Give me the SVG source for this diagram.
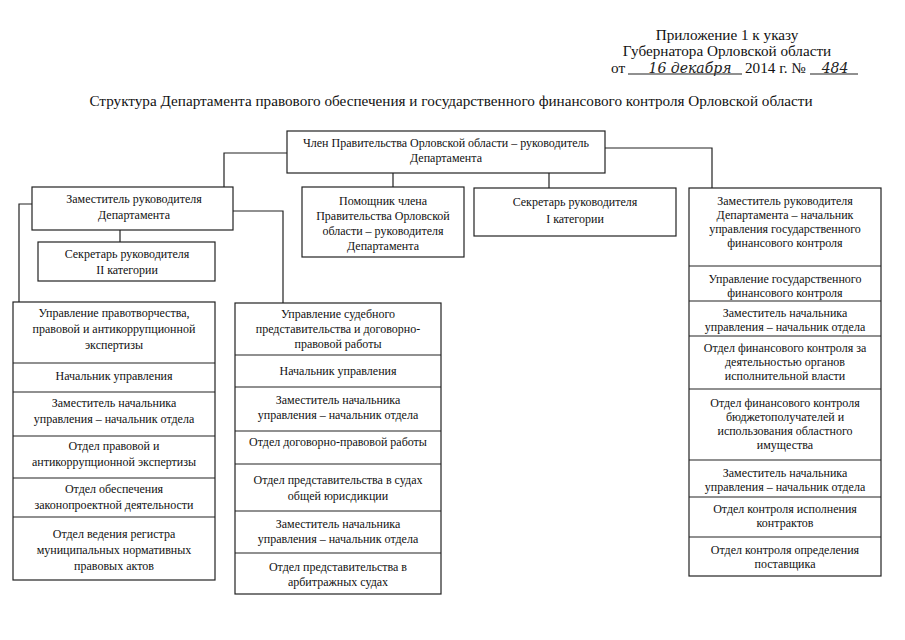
<svg xmlns="http://www.w3.org/2000/svg" width="905" height="640" viewBox="0 0 905 640">
<style>
text{font-family:"Liberation Serif","Times New Roman",serif;fill:#111;}
.t{font-size:12px;text-anchor:middle;}
.h{font-size:15.2px;}
.hw{font-family:"DejaVu Serif",serif;font-style:italic;font-size:14px;fill:#222;}
.b{fill:#fff;stroke:#222;stroke-width:1.2;}
.d{stroke:#222;stroke-width:1.2;fill:none;}
.c{stroke:#222;stroke-width:1.2;fill:none;}
</style>
<rect width="905" height="640" fill="#fff"/>
<g id="header">
<text class="h" x="727" y="40" text-anchor="middle">Приложение 1 к указу</text>
<text class="h" x="727" y="56" text-anchor="middle">Губернатора Орловской области</text>
<text class="h" x="611" y="73">от</text>
<line class="d" x1="628" y1="74" x2="742" y2="74"/>
<text class="hw" x="690" y="73" text-anchor="middle">16 декабря</text>
<text class="h" x="745" y="73">2014 г. №</text>
<line class="d" x1="810" y1="74" x2="858" y2="74"/>
<text class="hw" x="835" y="73" text-anchor="middle">484</text>
</g>
<text id="title" class="h" x="451" y="106" text-anchor="middle">Структура Департамента правового обеспечения и государственного финансового контроля Орловской области</text>
<g id="connectors">
<path class="c" d="M287,153 H224 V187"/>
<path class="c" d="M393,173 V187"/>
<path class="c" d="M549,173 V188"/>
<path class="c" d="M605,148 H712 V188"/>
<path class="c" d="M32,204 H19 V302"/>
<path class="c" d="M233,211 H283 V303"/>
<path class="c" d="M120,230 V242"/>
</g>
<g id="head">
<rect class="b" x="287" y="131" width="318" height="42"/>
<text class="t" x="446" y="147">Член Правительства Орловской области – руководитель</text>
<text class="t" x="446" y="162">Департамента</text>
</g>
<g id="deputy">
<rect class="b" x="32" y="187" width="201" height="43"/>
<text class="t" x="134" y="203">Заместитель руководителя</text>
<text class="t" x="134" y="219">Департамента</text>
</g>
<g id="secretary2">
<rect class="b" x="38" y="242" width="177" height="39"/>
<text class="t" x="127" y="258">Секретарь руководителя</text>
<text class="t" x="127" y="274">II категории</text>
</g>
<g id="assistant">
<rect class="b" x="302" y="187" width="162" height="70"/>
<text class="t" x="383" y="205">Помощник члена</text>
<text class="t" x="383" y="220">Правительства Орловской</text>
<text class="t" x="383" y="235">области – руководителя</text>
<text class="t" x="383" y="250">Департамента</text>
</g>
<g id="secretary1">
<rect class="b" x="474" y="188" width="202" height="48"/>
<text class="t" x="575" y="206">Секретарь руководителя</text>
<text class="t" x="575" y="223">I категории</text>
</g>
<g id="left-unit">
<rect class="b" x="13" y="302" width="202" height="278"/>
<path class="d" d="M13,363 H215 M13,392 H215 M13,436 H215 M13,478 H215 M13,517 H215"/>
<text class="t" x="114" y="317">Управление правотворчества,</text>
<text class="t" x="114" y="333">правовой и антикоррупционной</text>
<text class="t" x="114" y="349">экспертизы</text>
<text class="t" x="114" y="380">Начальник управления</text>
<text class="t" x="114" y="407">Заместитель начальника</text>
<text class="t" x="114" y="423">управления – начальник отдела</text>
<text class="t" x="114" y="450">Отдел правовой и</text>
<text class="t" x="114" y="466">антикоррупционной экспертизы</text>
<text class="t" x="114" y="493">Отдел обеспечения</text>
<text class="t" x="114" y="509">законопроектной деятельности</text>
<text class="t" x="114" y="538">Отдел ведения регистра</text>
<text class="t" x="114" y="554">муниципальных нормативных</text>
<text class="t" x="114" y="570">правовых актов</text>
</g>
<g id="middle-unit">
<rect class="b" x="235" y="303" width="206" height="291"/>
<path class="d" d="M235,355 H441 M235,387 H441 M235,431 H441 M235,464 H441 M235,511 H441 M235,553 H441"/>
<text class="t" x="338" y="318">Управление судебного</text>
<text class="t" x="338" y="333">представительства и договорно-</text>
<text class="t" x="338" y="348">правовой работы</text>
<text class="t" x="338" y="375">Начальник управления</text>
<text class="t" x="338" y="404">Заместитель начальника</text>
<text class="t" x="338" y="419">управления – начальник отдела</text>
<text class="t" x="338" y="446">Отдел договорно-правовой работы</text>
<text class="t" x="338" y="484">Отдел представительства в судах</text>
<text class="t" x="338" y="500">общей юрисдикции</text>
<text class="t" x="338" y="528">Заместитель начальника</text>
<text class="t" x="338" y="543">управления – начальник отдела</text>
<text class="t" x="338" y="571">Отдел представительства в</text>
<text class="t" x="338" y="586">арбитражных судах</text>
</g>
<g id="right-unit">
<rect class="b" x="689" y="188" width="192" height="388"/>
<path class="d" d="M689,266 H881 M689,301 H881 M689,336 H881 M689,389 H881 M689,460 H881 M689,497 H881 M689,537 H881"/>
<text class="t" x="785" y="205">Заместитель руководителя</text>
<text class="t" x="785" y="219">Департамента – начальник</text>
<text class="t" x="785" y="233">управления государственного</text>
<text class="t" x="785" y="247">финансового контроля</text>
<text class="t" x="785" y="283">Управление государственного</text>
<text class="t" x="785" y="297">финансового контроля</text>
<text class="t" x="785" y="317">Заместитель начальника</text>
<text class="t" x="785" y="331">управления – начальник отдела</text>
<text class="t" x="785" y="352">Отдел финансового контроля за</text>
<text class="t" x="785" y="366">деятельностью органов</text>
<text class="t" x="785" y="380">исполнительной власти</text>
<text class="t" x="785" y="407">Отдел финансового контроля</text>
<text class="t" x="785" y="421">бюджетополучателей и</text>
<text class="t" x="785" y="435">использования областного</text>
<text class="t" x="785" y="449">имущества</text>
<text class="t" x="785" y="477">Заместитель начальника</text>
<text class="t" x="785" y="491">управления – начальник отдела</text>
<text class="t" x="785" y="513">Отдел контроля исполнения</text>
<text class="t" x="785" y="527">контрактов</text>
<text class="t" x="785" y="554">Отдел контроля определения</text>
<text class="t" x="785" y="568">поставщика</text>
</g>
</svg>
